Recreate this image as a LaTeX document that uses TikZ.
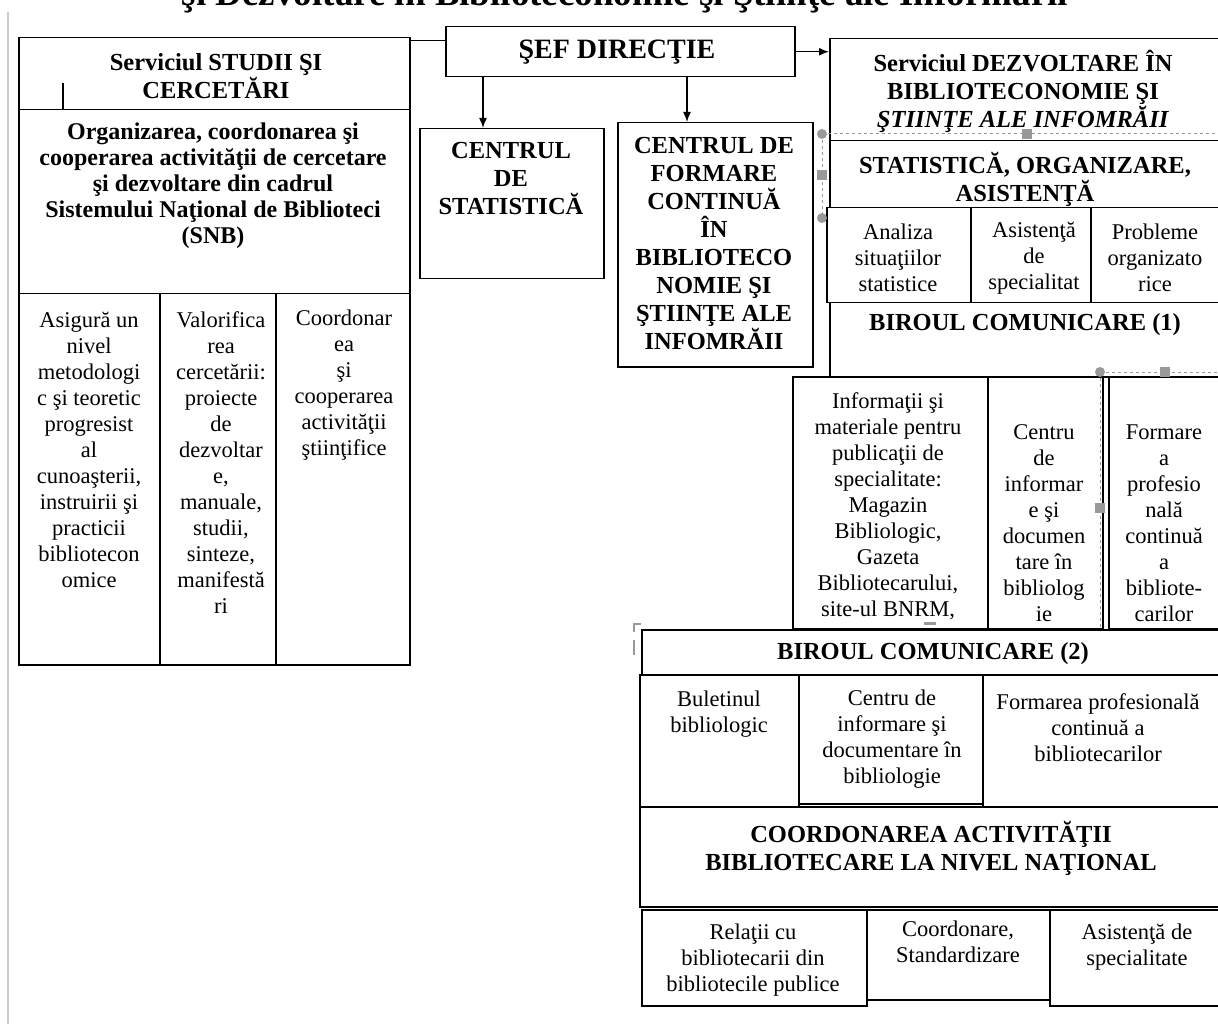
\documentclass[tikz,border=0pt]{standalone}
\usepackage{fontspec}
\setmainfont{Liberation Serif}
\usetikzlibrary{arrows.meta,positioning}
\tikzset{
  box/.style   = {draw, line width=1.5pt, anchor=north west, inner sep=0pt},
  head/.style  = {align=center, inner sep=0pt, font={\fontsize{24.5}{28}\selectfont\bfseries}},
  body/.style  = {align=center, inner sep=0pt, font={\fontsize{24}{26}\selectfont\bfseries}},
  cell/.style  = {align=center, inner sep=0pt, font={\fontsize{22.5}{26}\selectfont}},
  sel/.style   = {draw=gray!80, line width=1pt, dashed},
  handle/.style = {fill=gray!80}
}

\begin{document}
\begin{tikzpicture}[x=1pt, y=-1pt, >={Latex[length=10pt,width=8pt]}]

\useasboundingbox (0,0) rectangle (1218,1024);
\clip (0,0) rectangle (1218,1024);

% title, cut at the top of the page
\node[font={\fontsize{37}{40}\selectfont\bfseries}, anchor=base, inner sep=0pt] (title) at (625,6)
  {şi Dezvoltare în Biblioteconomie şi Ştiinţe ale Informării};
\draw[gray!40, line width=2pt] (8,12) -- (8,1024);

% head of the direction
\node[box, minimum width=349pt, minimum height=50pt] (sef) at (445,26) {};
\node[font={\fontsize{28}{30}\selectfont\bfseries}, inner sep=0pt] (seft) at (617,52) {ŞEF DIRECŢIE};

% left service, boxes
\node[box, minimum width=391pt, minimum height=72pt]  (sdc) at (18,37) {};
\node[box, minimum width=391pt, minimum height=184pt] (org) at (18,109) {};
\node[box, minimum width=141pt, minimum height=371pt] (sc1) at (18,293) {};
\node[box, minimum width=116pt, minimum height=371pt] (sc2) at (159,293) {};
\node[box, minimum width=134pt, minimum height=371pt] (sc3) at (275,293) {};
\draw[line width=1.5pt] (63,83) -- (63,109);

% left service, texts
\node[head] (sdct) at (216,76) {Serviciul STUDII ŞI\\CERCETĂRI};
\node[body] (orgt) at (213,186) {Organizarea, coordonarea şi\\cooperarea activităţii de cercetare\\şi dezvoltare din cadrul\\Sistemului Naţional de Biblioteci\\(SNB)};
\node[cell] (sc1t) at (89,450) {Asigură un\\nivel\\metodologi\\c şi teoretic\\progresist\\al\\cunoaşterii,\\instruirii şi\\practicii\\bibliotecon\\omice};
\node[cell] (sc2t) at (221,463) {Valorifica\\rea\\cercetării:\\proiecte\\de\\dezvoltar\\e,\\manuale,\\studii,\\sinteze,\\manifestă\\ri};
\node[cell] (sc3t) at (344,385) {Coordonar\\ea\\şi\\cooperarea\\activităţii\\ştiinţifice};

% centres under the head
\node[box, minimum width=184pt, minimum height=150pt] (cst) at (419,128) {};
\node[box, minimum width=195pt, minimum height=244pt] (cfc) at (617,122) {};
\node[head] (cstt) at (511,179) {CENTRUL\\DE\\STATISTICĂ};
\node[head] (cfct) at (714,244) {CENTRUL DE\\FORMARE\\CONTINUĂ\\ÎN\\BIBLIOTECO\\NOMIE ŞI\\ŞTIINŢE ALE\\INFOMRĂII};

% right service, boxes
\node[box, minimum width=393pt, minimum height=102pt] (sdz) at (829,38) {};
\node[box, minimum width=393pt, minimum height=67pt]  (soa) at (829,140) {};
\node[box, minimum width=144pt, minimum height=95pt]  (an1) at (826,207) {};
\node[box, minimum width=120pt, minimum height=95pt]  (an2) at (970,207) {};
\node[box, minimum width=132pt, minimum height=95pt]  (an3) at (1090,207) {};
\node[box, minimum width=393pt, minimum height=74pt]  (bc1) at (829,302) {};
\node[box, minimum width=195pt, minimum height=252pt] (inf) at (792,376) {};
\node[box, minimum width=115pt, minimum height=252pt] (cid) at (987,376) {};
\node[box, minimum width=114pt, minimum height=252pt] (fpc) at (1108,376) {};
\node[box, minimum width=581pt, minimum height=45pt]  (bc2) at (641,629) {};
\node[box, minimum width=159pt, minimum height=132pt] (bu1) at (639,674) {};
\node[box, minimum width=184pt, minimum height=129pt] (bu2) at (798,674) {};
\node[box, minimum width=240pt, minimum height=132pt] (bu3) at (982,674) {};
\node[box, minimum width=583pt, minimum height=100pt] (cab) at (639,806) {};
\node[box, minimum width=225pt, minimum height=96pt]  (rc1) at (641,909) {};
\node[box, minimum width=183pt, minimum height=90pt]  (rc2) at (866,909) {};
\node[box, minimum width=173pt, minimum height=96pt]  (rc3) at (1049,909) {};

% right service, texts
\node[head] (sdzt) at (1023,91) {Serviciul DEZVOLTARE ÎN\\BIBLIOTECONOMIE ŞI\\\textit{ŞTIINŢE ALE INFOMRĂII}};
\node[head] (soat) at (1025,179) {STATISTICĂ, ORGANIZARE,\\ASISTENŢĂ};
\node[cell] (an1t) at (898,258) {Analiza\\situaţiilor\\statistice};
\node[cell] (an2t) at (1034,258) {Asistenţă\\de\\specialitat};
\node[cell] (an3t) at (1155,258) {Probleme\\organizato\\rice};
\node[head] (bc1t) at (1025,325) {BIROUL COMUNICARE (1)};
\node[cell] (inft) at (888,506) {Informaţii şi\\materiale pentru\\publicaţii de\\specialitate:\\Magazin\\Bibliologic,\\Gazeta\\Bibliotecarului,\\site-ul BNRM,};
\node[cell] (cidt) at (1044,523) {Centru\\de\\informar\\e şi\\documen\\tare în\\bibliolog\\ie};
\node[cell] (fpct) at (1164,523) {Formare\\a\\profesio\\nală\\continuă\\a\\bibliote-\\carilor};
\node[head] (bc2t) at (933,654) {BIROUL COMUNICARE (2)};
\node[cell] (bu1t) at (719,714) {Buletinul\\bibliologic};
\node[cell] (bu2t) at (892,739) {Centru de\\informare şi\\documentare în\\bibliologie};
\node[cell] (bu3t) at (1098,728) {Formarea profesională\\continuă a\\bibliotecarilor};
\node[head] (cabt) at (931,848) {COORDONAREA ACTIVITĂŢII\\BIBLIOTECARE LA NIVEL NAŢIONAL};
\node[cell] (rc1t) at (753,960) {Relaţii cu\\bibliotecarii din\\bibliotecile publice};
\node[cell] (rc2t) at (958,942) {Coordonare,\\Standardizare};
\node[cell] (rc3t) at (1137,947) {Asistenţă de\\specialitate};

% links from the head
\draw[line width=1.5pt] ([yshift=11pt]sef.west) -- ([yshift=11pt]sef.west -| sdc.east);
\draw[line width=1.5pt, ->] (sef.east) -- (sef.east -| sdz.west);
\draw[line width=1.5pt, ->] ([xshift=64pt]cst.north west |- sef.south) -- ([xshift=64pt]cst.north west);
\draw[line width=1.5pt, ->] ([xshift=70pt]cfc.north west |- sef.south) -- ([xshift=70pt]cfc.north west);

% selection handles
\draw[sel] (822,134) -- (1222,134);
\draw[sel] (822,134) -- (822,218);
\draw[sel] (1100,372) -- (1222,372);
\draw[sel] (1100,372) -- (1100,628);
\foreach \p in {(822,134),(822,218),(1100,372)}
  \fill[handle] \p circle[radius=5pt];
\foreach \p in {(1022,129),(817,170),(1160,367),(1095,503)}
  \fill[handle] \p rectangle +(10,10);
\fill[handle] (924,622) rectangle +(12,3);
\draw[gray!80, line width=2pt] (634,632) -- (634,624) -- (641,624);
\draw[gray!80, line width=2pt] (634,640) -- (634,655);

\end{tikzpicture}
\end{document}
